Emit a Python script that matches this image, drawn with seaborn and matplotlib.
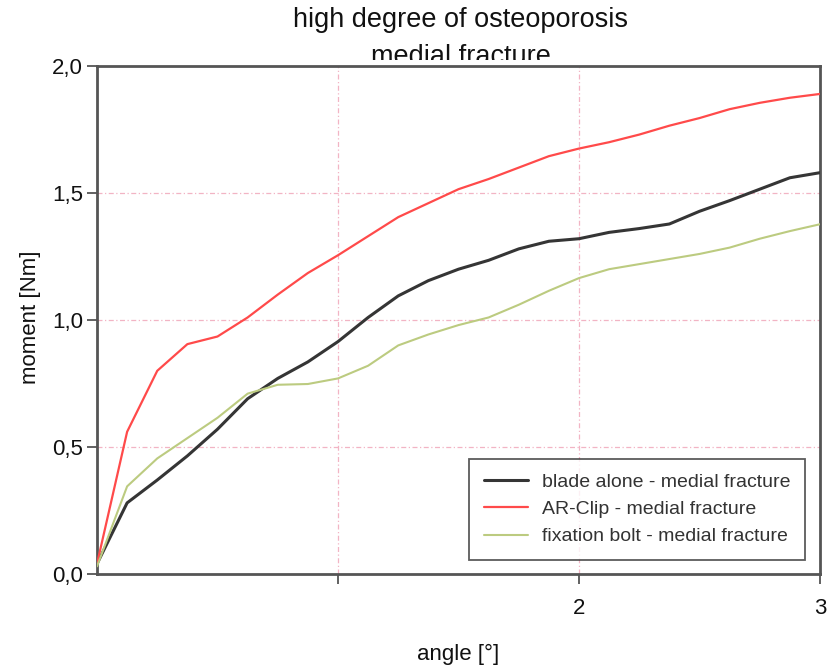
import numpy as np
import pandas as pd
import matplotlib
matplotlib.use("Agg")
import matplotlib.pyplot as plt
from matplotlib.transforms import Bbox, TransformedBbox
import seaborn as sns

# Bending test: moment vs. angle, high degree of osteoporosis, medial fracture
angle = [0.0, 0.125, 0.25, 0.375, 0.5, 0.625, 0.75, 0.875, 1.0, 1.125, 1.25, 1.375,
         1.5, 1.625, 1.75, 1.875, 2.0, 2.125, 2.25, 2.375, 2.5, 2.625, 2.75, 2.875, 3.0]

blade_alone = [0.04, 0.28, 0.37, 0.465, 0.57, 0.69, 0.77, 0.835, 0.915, 1.01, 1.095, 1.155,
               1.20, 1.235, 1.28, 1.31, 1.32, 1.345, 1.36, 1.378, 1.428, 1.47, 1.515, 1.56, 1.58]
ar_clip = [0.04, 0.56, 0.80, 0.905, 0.935, 1.01, 1.10, 1.185, 1.255, 1.33, 1.405, 1.46,
           1.515, 1.555, 1.60, 1.645, 1.675, 1.70, 1.73, 1.765, 1.795, 1.83, 1.855, 1.875, 1.89]
fixation_bolt = [0.03, 0.345, 0.455, 0.535, 0.615, 0.71, 0.745, 0.748, 0.77, 0.82, 0.90, 0.943,
                 0.98, 1.01, 1.06, 1.115, 1.165, 1.20, 1.22, 1.24, 1.26, 1.285, 1.32, 1.35, 1.377]

series_names = ["blade alone - medial fracture",
                "AR-Clip - medial fracture",
                "fixation bolt - medial fracture"]
series_values = [blade_alone, ar_clip, fixation_bolt]
series_colors = ["#353535", "#ff4a4a", "#bccb80"]
series_widths = [2.2, 1.6, 1.5]

x_ticks = [1, 2, 3]
x_tick_labels = ["", "2", "3"]
y_ticks = [0.0, 0.5, 1.0, 1.5, 2.0]
y_tick_labels = ["0,0", "0,5", "1,0", "1,5", "2,0"]

df = pd.DataFrame({
    "angle": np.tile(angle, len(series_names)),
    "moment": np.concatenate(series_values),
    "series": np.repeat(series_names, len(angle)),
})

sns.set_theme(style="white")
plt.rcParams["font.family"] = ["Liberation Sans", "DejaVu Sans"]

W, H = 829, 668
fig = plt.figure(figsize=(W / 100, H / 100), dpi=100)
ax = fig.add_axes([97 / W, 1 - 574 / H, (820 - 97) / W, (574 - 66) / H])

for name, color, lw in zip(series_names, series_colors, series_widths):
    sns.lineplot(data=df[df["series"] == name], x="angle", y="moment",
                 color=color, linewidth=lw, label=name, ax=ax, zorder=3)

ax.set_xlim(0, 3)
ax.set_ylim(0, 2)

grid_style = dict(color="#f2b4c4", linewidth=0.9, linestyle=(0, (4, 2, 1, 2)), zorder=1)
for gy in [0.5, 1.0, 1.5]:
    ax.axhline(gy, **grid_style)
for gx in [1, 2]:
    ax.axvline(gx, **grid_style)

ax.set_xticks(x_ticks)
ax.set_xticklabels(x_tick_labels)
ax.set_yticks(y_ticks)
ax.set_yticklabels(y_tick_labels)
ax.tick_params(axis="both", direction="out", length=7, width=1.3, color="#555555",
               labelsize=16, labelcolor="#111111")
ax.tick_params(axis="x", pad=10, bottom=True)
ax.tick_params(axis="y", pad=3, left=True)

for sp in ax.spines.values():
    sp.set_color("#555555")
    sp.set_linewidth(2.0)
    sp.set_visible(True)

ax.set_xlabel("angle [°]", fontsize=16, color="#111111")
ax.set_ylabel("moment [Nm]", fontsize=16, color="#111111")
ax.xaxis.set_label_coords(0.5, (574 - 644) / 508)
ax.yaxis.set_label_coords((41 - 97) / 723, (574 - 317) / 508)

leg = ax.legend(loc="lower right", bbox_to_anchor=((805 - 97) / 723, (574 - 560) / 508),
                fontsize=14, frameon=True, fancybox=False, handlelength=2.3,
                handletextpad=0.7, labelspacing=0.5, borderpad=0.75, borderaxespad=0)
leg.get_frame().set_edgecolor("#333333")
leg.get_frame().set_linewidth(1.3)
for t in leg.get_texts():
    t.set_color("#333333")

# Two-line heading; the lower line tucks under the top frame
fig.text(461 / W, 1 - 27 / H, "high degree of osteoporosis", ha="center", va="baseline",
         fontsize=19.5, color="#111111")
sub = fig.text(461 / W, 1 - 64 / H, "medial fracture", ha="center", va="baseline",
               fontsize=19.5, color="#111111")
sub.set_clip_box(TransformedBbox(Bbox([[0, 1 - 59.5 / H], [1, 1]]), fig.transFigure))
sub.set_clip_on(True)

fig.savefig("out.png", dpi=100)
